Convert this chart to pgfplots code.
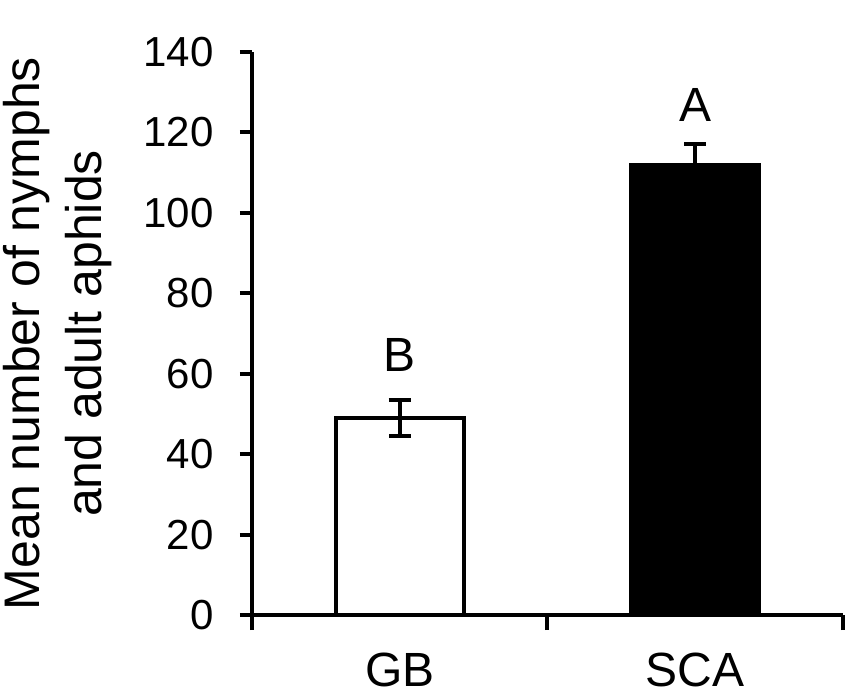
\documentclass[border=0pt]{standalone}
\usepackage{pgfplots}
\pgfplotsset{compat=1.18}
\usepackage{fontspec}
\setmainfont{Liberation Sans}
\begin{document}
\begin{tikzpicture}
\useasboundingbox (-126pt,-41pt) rectangle (299.5pt,307.5pt);
\begin{axis}[
  at={(0,0)}, anchor=south west,
  scale only axis, width=295.5pt, height=281.5pt,
  clip=false,
  xmin=0, xmax=2, ymin=0, ymax=140,
  axis x line=bottom, axis y line=left,
  axis line style={-, line width=2pt},
  every tick/.style={black, line width=2pt},
  tick align=outside,
  major tick length=6pt,
  ytick={0,20,...,140},
  /pgf/number format/assume math mode=true,
  yticklabel style={font=\fontsize{21}{24}\selectfont, inner sep=0pt, xshift=-13pt},
  xtick={0.5,1.5}, xticklabels={GB,SCA},
  xtick style={draw=none},
  xticklabel style={font=\fontsize{24}{28}\selectfont, inner sep=0pt, yshift=-13pt},
  extra x ticks={0,1,2}, extra x tick labels={},
  extra x tick style={xtick style={draw=black, line width=2pt}, major tick length=7.5pt},
  ylabel={Mean number of nymphs\\and adult aphids},
  ylabel style={at={(axis description cs:0,0.5)}, yshift=70pt, anchor=south, inner sep=0pt,
    align=center, font=\fontsize{25}{31}\selectfont},
]
\addplot[ybar, bar width=64pt, bar shift=0pt, fill=white, draw=black, line width=2pt,
  error bars/.cd, y dir=both, y explicit,
  error bar style={line width=2pt, black},
  error mark options={rotate=90, mark size=5.5pt, line width=2pt, black}]
  coordinates {(0.5,49) +- (0,4.4)};
\addplot[ybar, bar width=64pt, bar shift=0pt, fill=black, draw=black, line width=2pt,
  error bars/.cd, y dir=both, y explicit,
  error bar style={line width=2pt, black},
  error mark options={rotate=90, mark size=5.5pt, line width=2pt, black}]
  coordinates {(1.5,111.8) +- (0,5.3)};
\node[font=\fontsize{24}{28}\selectfont] at (axis cs:0.5,64.7) {B};
\node[font=\fontsize{24}{28}\selectfont] at (axis cs:1.5,126.9) {A};
\end{axis}
\end{tikzpicture}
\end{document}
